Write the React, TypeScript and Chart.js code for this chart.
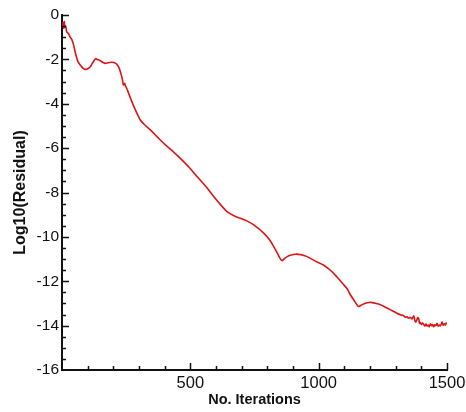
import React, { useEffect, useRef } from "react";
import Chart from "chart.js/auto";

const ITERATIONS = [
  2, 5, 7, 9, 11, 14, 18, 22, 26, 32, 38, 44, 50, 56, 62, 71, 80, 91, 100, 110,
  118, 126, 132, 136, 142, 149, 160, 169, 180, 192, 202, 212, 220, 226, 231, 236,
  239, 242, 244, 247, 250, 256, 262, 274, 286, 305, 325, 344, 370, 396, 430, 461,
  495, 526, 560, 591, 620, 643, 670, 695, 720, 747, 786, 810, 825, 840, 850, 857,
  865, 877, 893, 909, 930, 955, 985, 1020, 1050, 1072, 1095, 1111, 1124, 1140,
  1150, 1156, 1165, 1175, 1190, 1202, 1220, 1241, 1260, 1280, 1300, 1318, 1330,
  1338, 1344, 1350, 1357, 1364, 1370, 1374, 1377, 1382, 1386, 1390, 1393, 1396,
  1400, 1405, 1409, 1414, 1418, 1422, 1427, 1431, 1435, 1440, 1444, 1448, 1453,
  1457, 1461, 1466, 1470, 1474, 1478, 1481, 1485, 1490, 1494, 1497, 1500,
];

const RESIDUAL = [
  -0.55, -0.35, -0.6, -0.3, -0.55, -0.5, -0.75, -0.8, -0.85, -1.0, -1.1, -1.3,
  -1.6, -1.88, -2.1, -2.25, -2.38, -2.45, -2.42, -2.33, -2.18, -2.04, -1.96, -2.0,
  -2.02, -2.06, -2.14, -2.18, -2.15, -2.13, -2.14, -2.2, -2.33, -2.5, -2.7, -2.95,
  -3.15, -3.12, -3.08, -3.2, -3.25, -3.42, -3.6, -3.96, -4.28, -4.73, -4.98, -5.18,
  -5.48, -5.78, -6.12, -6.46, -6.86, -7.28, -7.72, -8.18, -8.58, -8.86, -9.05,
  -9.16, -9.28, -9.46, -9.83, -10.15, -10.44, -10.76, -10.98, -11.07, -11.0,
  -10.89, -10.82, -10.78, -10.8, -10.89, -11.08, -11.28, -11.55, -11.82, -12.12,
  -12.34, -12.62, -12.9, -13.08, -13.14, -13.08, -13.02, -12.97, -12.95, -12.99,
  -13.06, -13.17, -13.29, -13.41, -13.51, -13.55, -13.62, -13.6, -13.66, -13.63,
  -13.7, -13.56, -13.72, -13.84, -13.76, -13.64, -13.7, -13.9, -13.86, -13.95,
  -13.88, -13.94, -14.02, -13.93, -14.02, -13.97, -14.05, -13.92, -14.0, -13.95,
  -14.05, -13.96, -14.0, -13.9, -14.02, -13.97, -14.01, -13.92, -13.84, -13.98,
  -13.92, -13.97, -13.88, -13.9,
];

const X_MIN = 0;
const X_MAX = 1500;
const X_MAJOR_STEP = 500;
const X_MINOR_STEP = 100;
const Y_MIN = -16;
const Y_MAX = 0;
const Y_MAJOR_STEP = 2;
const Y_MINOR_STEP = 0.5;

const FONT = "'Liberation Sans', Arial, Helvetica, sans-serif";

const inwardTicks = {
  id: "inwardTicks",
  afterDraw(chart: any) {
    const { ctx, chartArea } = chart;
    const xs = chart.scales.x;
    const ys = chart.scales.y;
    ctx.save();
    ctx.strokeStyle = "#111";
    ctx.lineWidth = 1.5;
    ctx.beginPath();
    for (let v = X_MIN + X_MINOR_STEP; v <= X_MAX + 1e-9; v += X_MINOR_STEP) {
      const px = Math.round(xs.getPixelForValue(v)) + 0.5;
      const len = Math.abs(v % X_MAJOR_STEP) < 1e-9 ? 7 : 4;
      ctx.moveTo(px, chartArea.bottom);
      ctx.lineTo(px, chartArea.bottom - len);
    }
    for (let v = Y_MIN + Y_MINOR_STEP; v <= Y_MAX + 1e-9; v += Y_MINOR_STEP) {
      const py = Math.round(ys.getPixelForValue(v)) + 0.5;
      const len = Math.abs(v % Y_MAJOR_STEP) < 1e-9 ? 7 : 4;
      ctx.moveTo(chartArea.left, py);
      ctx.lineTo(chartArea.left + len, py);
    }
    ctx.stroke();
    ctx.restore();
  },
};

export default function App() {
  const ref = useRef<HTMLCanvasElement | null>(null);

  useEffect(() => {
    document.body.style.margin = "0";
    const canvas = ref.current;
    if (!canvas) return;
    const data = ITERATIONS.map((x, i) => ({ x, y: RESIDUAL[i] }));
    const chart = new Chart(canvas, {
      type: "line",
      data: {
        datasets: [
          {
            data,
            borderColor: "#dd1515",
            borderWidth: 1.6,
            pointRadius: 0,
            tension: 0.3,
            fill: false,
          },
        ],
      },
      options: {
        animation: false,
        responsive: false,
        maintainAspectRatio: false,
        layout: { padding: { left: 0, right: 19, top: 15, bottom: 0 } },
        plugins: {
          legend: { display: false },
          tooltip: { enabled: false },
        },
        scales: {
          x: {
            type: "linear",
            min: X_MIN,
            max: X_MAX,
            grid: { display: false, drawTicks: false },
            border: { display: true, color: "#111", width: 2 },
            ticks: {
              stepSize: X_MAJOR_STEP,
              padding: 4,
              color: "#111",
              font: { family: FONT, size: 16.5 },
              maxRotation: 0,
              callback: (v: any) => (Number(v) === 0 ? "" : String(v)),
            },
            title: {
              display: true,
              text: "No. Iterations",
              color: "#111",
              font: { family: FONT, size: 14.5, weight: "bold" },
              padding: { top: 0, bottom: 3 },
            },
            afterFit: (s: any) => {
              s.height = 42;
              s.paddingLeft = 0;
              s.paddingRight = 0;
            },
          },
          y: {
            type: "linear",
            min: Y_MIN,
            max: Y_MAX,
            grid: { display: false, drawTicks: false },
            border: { display: true, color: "#111", width: 2 },
            ticks: {
              stepSize: Y_MAJOR_STEP,
              padding: 3,
              color: "#111",
              font: { family: FONT, size: 15.5 },
            },
            title: {
              display: true,
              text: "Log10(Residual)",
              color: "#111",
              font: { family: FONT, size: 16, weight: "bold" },
              padding: { top: 11, bottom: 0 },
            },
            afterFit: (s: any) => {
              s.width = 62;
              s.paddingTop = 0;
              s.paddingBottom = 0;
            },
          },
        },
      },
      plugins: [inwardTicks],
    });
    return () => chart.destroy();
  }, []);

  return (
    <div style={{ width: 466, height: 412 }}>
      <canvas ref={ref} width={466} height={412} style={{ display: "block" }} />
    </div>
  );
}
